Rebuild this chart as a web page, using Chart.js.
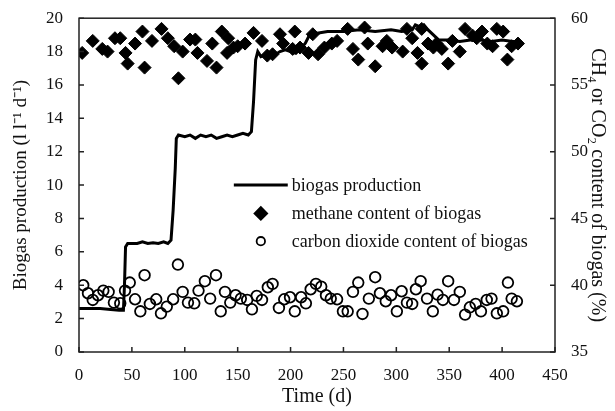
<!DOCTYPE html>
<html lang="en">
<head>
<meta charset="UTF-8">
<title>Biogas production and composition</title>
<script src="https://cdn.jsdelivr.net/npm/chart.js"></script>
<style>
  body { margin: 0; background: #fff; }
</style>
</head>
<body>
<canvas id="biogasChart" width="615" height="411"></canvas>
<script>
  // biogas production (l l-1 d-1), left axis
  const prodDays   = [0, 10, 20, 30, 38, 42, 43, 44, 46, 55, 60, 65, 70, 75, 80, 84, 87, 89, 91, 92, 94, 100, 105, 110, 115, 120, 125, 130, 135, 140, 145, 150, 155, 160, 163, 165, 167, 169, 172, 176, 180, 185, 190, 195, 200, 205, 210, 214, 218, 225, 235, 250, 265, 280, 295, 305, 315, 318, 322, 326, 330, 335, 340, 350, 360, 370, 380, 390, 400, 410, 415];
  const prodValues = [2.6, 2.6, 2.6, 2.55, 2.5, 2.5, 4.0, 6.3, 6.5, 6.5, 6.6, 6.5, 6.55, 6.5, 6.6, 6.5, 6.7, 8.5, 11, 12.8, 13.0, 12.9, 13.0, 12.8, 13.0, 12.9, 13.0, 12.8, 12.9, 13.0, 12.9, 13.0, 13.1, 13.0, 13.2, 15, 17.5, 18.0, 17.7, 17.8, 17.9, 17.8, 18.0, 18.1, 18.0, 17.9, 18.2, 18.5, 19.0, 19.1, 19.2, 19.2, 19.3, 19.2, 19.3, 19.2, 19.3, 19.6, 19.5, 19.6, 19.3, 19.0, 18.7, 18.7, 18.6, 18.7, 18.7, 18.6, 18.7, 18.6, 18.6];

  // methane content of biogas (%), right axis
  const ch4Days   = [3, 13, 22, 27, 34, 39, 44, 46, 53, 60, 62, 69, 78, 84, 90, 94, 98, 105, 110, 112, 121, 126, 130, 135, 141, 140, 146, 150, 157, 165, 173, 178, 183, 190, 193, 204, 202, 209, 217, 221, 226, 232, 239, 244, 254, 259, 264, 270, 273, 280, 287, 291, 296, 306, 310, 315, 320, 324, 324, 330, 335, 338, 343, 349, 353, 360, 365, 372, 376, 381, 386, 391, 395, 401, 405, 409, 415];
  const ch4Values = [57.4, 58.3, 57.7, 57.5, 58.5, 58.5, 57.4, 56.6, 58.1, 59.0, 56.3, 58.3, 59.2, 58.5, 57.9, 55.5, 57.5, 58.4, 58.4, 57.4, 56.8, 58.1, 56.3, 59.0, 58.5, 57.4, 57.8, 57.9, 58.1, 58.9, 58.3, 57.2, 57.3, 58.8, 58.1, 59.0, 57.7, 57.8, 57.4, 58.8, 57.3, 57.8, 58.1, 58.3, 59.2, 57.7, 56.9, 59.3, 58.1, 56.4, 57.9, 58.3, 57.8, 57.5, 59.2, 58.5, 57.4, 59.2, 56.6, 58.1, 57.8, 58.1, 57.7, 56.6, 58.3, 57.5, 59.2, 58.7, 58.5, 59.0, 58.1, 57.9, 59.2, 59.0, 56.9, 57.9, 58.1];

  // carbon dioxide content of biogas (%), right axis
  const co2Days   = [4, 8.5, 13, 18, 23, 28, 33, 39, 43.5, 48, 53, 58, 62, 67, 73, 77.5, 83, 89, 93.5, 98, 103, 109, 113, 119, 124, 129.5, 134, 138, 143, 148, 153, 159, 163.5, 168, 173, 178.5, 183, 189, 194, 199.5, 204, 210, 214.5, 219, 224, 229, 233.5, 238, 244, 249.5, 254, 259, 264, 268, 274, 280, 284.5, 290, 295, 300.5, 305, 310, 315, 318.5, 323, 329, 334.5, 339, 344, 349, 354.5, 360, 365, 369.5, 375, 380, 385.5, 390, 395, 401, 405.5, 409, 414];
  const co2Values = [40.0, 39.4, 38.9, 39.25, 39.6, 39.5, 38.7, 38.65, 39.6, 40.2, 38.95, 38.05, 40.75, 38.6, 38.95, 37.9, 38.4, 38.95, 41.55, 39.5, 38.7, 38.65, 39.6, 40.3, 39.0, 40.75, 38.05, 39.5, 38.7, 39.25, 39.0, 38.9, 38.2, 39.2, 38.9, 39.85, 40.1, 38.3, 38.95, 39.1, 38.05, 39.1, 38.65, 39.7, 40.1, 39.9, 39.25, 39.0, 38.95, 38.05, 38.05, 39.5, 40.2, 37.85, 39.0, 40.6, 39.4, 38.8, 39.25, 38.05, 39.55, 38.7, 38.6, 39.7, 40.3, 39.0, 38.05, 39.3, 38.9, 40.3, 38.9, 39.5, 37.8, 38.35, 38.6, 38.05, 38.9, 39.0, 37.9, 38.05, 40.2, 39.0, 38.8];

  const seriesLabels = ['biogas production', 'methane content of biogas', 'carbon dioxide content of biogas'];

  const serif = 'Liberation Serif, "Times New Roman", serif';
  const ink = '#111';

  function toPoints(xs, ys) {
    return xs.map((x, i) => ({ x: x, y: ys[i] }));
  }

  // box around the plot plus inward tick marks
  const frameTicks = {
    id: 'frameTicks',
    afterDatasetsDraw(chart) {
      const ctx = chart.ctx;
      const a = chart.chartArea;
      const len = 5;
      ctx.save();
      ctx.strokeStyle = '#222';
      ctx.lineWidth = 1.5;
      ctx.strokeRect(a.left, a.top, a.right - a.left, a.bottom - a.top);
      ctx.beginPath();
      chart.scales.x.ticks.forEach(t => {
        const px = chart.scales.x.getPixelForValue(t.value);
        ctx.moveTo(px, a.bottom); ctx.lineTo(px, a.bottom - len);
      });
      chart.scales.y.ticks.forEach(t => {
        const py = chart.scales.y.getPixelForValue(t.value);
        ctx.moveTo(a.left, py); ctx.lineTo(a.left + len, py);
      });
      chart.scales.y1.ticks.forEach(t => {
        const py = chart.scales.y1.getPixelForValue(t.value);
        ctx.moveTo(a.right, py); ctx.lineTo(a.right - len, py);
      });
      ctx.stroke();
      ctx.restore();
    }
  };

  // legend sits inside the plot area
  const innerLegend = {
    id: 'innerLegend',
    afterDraw(chart) {
      const ctx = chart.ctx;
      const a = chart.chartArea;
      const w = a.right - a.left, h = a.bottom - a.top;
      const symX = a.left + w * 0.382;
      const textX = a.left + w * 0.447;
      const rowY = [a.top + h * 0.5, a.top + h * 0.585, a.top + h * 0.668];
      ctx.save();
      ctx.font = '18px ' + serif;
      ctx.textBaseline = 'middle';
      const ds = chart.data.datasets;

      ctx.strokeStyle = ds[0].borderColor;
      ctx.lineWidth = ds[0].borderWidth;
      ctx.beginPath();
      ctx.moveTo(symX - 27, rowY[0]); ctx.lineTo(textX - 4, rowY[0]);
      ctx.stroke();

      Chart.helpers.drawPoint(ctx, { pointStyle: 'rectRot', radius: 5.5, borderWidth: 1, rotation: 0 }, symX, rowY[1]);
      ctx.fillStyle = '#000'; ctx.fill();

      ctx.beginPath();
      ctx.lineWidth = 1.8;
      ctx.strokeStyle = '#000';
      ctx.arc(symX, rowY[2], 4.2, 0, Math.PI * 2);
      ctx.stroke();

      ctx.fillStyle = ink;
      seriesLabels.forEach((lab, i) => ctx.fillText(lab, textX, rowY[i] + 1));
      ctx.restore();
    }
  };

  new Chart(document.getElementById('biogasChart'), {
    type: 'scatter',
    data: {
      datasets: [
        {
          label: seriesLabels[0],
          data: toPoints(prodDays, prodValues),
          showLine: true,
          borderColor: '#000',
          borderWidth: 3,
          pointRadius: 0,
          tension: 0,
          yAxisID: 'y'
        },
        {
          label: seriesLabels[1],
          data: toPoints(ch4Days, ch4Values),
          pointStyle: 'rectRot',
          pointRadius: 6.5,
          backgroundColor: '#000',
          borderColor: '#000',
          borderWidth: 1,
          yAxisID: 'y1'
        },
        {
          label: seriesLabels[2],
          data: toPoints(co2Days, co2Values),
          pointStyle: 'circle',
          pointRadius: 5.3,
          backgroundColor: 'rgba(255,255,255,0)',
          borderColor: '#000',
          borderWidth: 1.8,
          yAxisID: 'y1'
        }
      ]
    },
    options: {
      responsive: false,
      animation: false,
      layout: { padding: { left: 6, right: 2, top: 17, bottom: 0 } },
      plugins: {
        legend: { display: false },
        tooltip: { enabled: false }
      },
      scales: {
        x: {
          type: 'linear',
          min: 0, max: 450,
          grid: { display: false },
          border: { display: false },
          ticks: { stepSize: 50, color: ink, padding: 5, font: { family: serif, size: 17 } },
          title: { display: true, text: 'Time (d)', color: ink, padding: { top: 4, bottom: 2 }, font: { family: serif, size: 20 } },
          afterFit(s) { s.height = 59; }
        },
        y: {
          position: 'left',
          min: 0, max: 20,
          grid: { display: false },
          border: { display: false },
          ticks: { stepSize: 2, color: ink, padding: 8, font: { family: serif, size: 17 } },
          title: { display: true, text: 'Biogas production (l l\u207B\u00B9 d\u207B\u00B9)', color: ink, font: { family: serif, size: 19 } },
          afterFit(s) { s.width = 73; }
        },
        y1: {
          position: 'right',
          min: 35, max: 60,
          grid: { display: false },
          border: { display: false },
          ticks: { stepSize: 5, color: ink, padding: 8, font: { family: serif, size: 17 } },
          title: { display: true, text: 'CH\u2084 or CO\u2082 content of biogas (%)', color: ink, font: { family: serif, size: 20 } },
          afterFit(s) { s.width = 58; }
        }
      }
    },
    plugins: [frameTicks, innerLegend]
  });
</script>
</body>
</html>
